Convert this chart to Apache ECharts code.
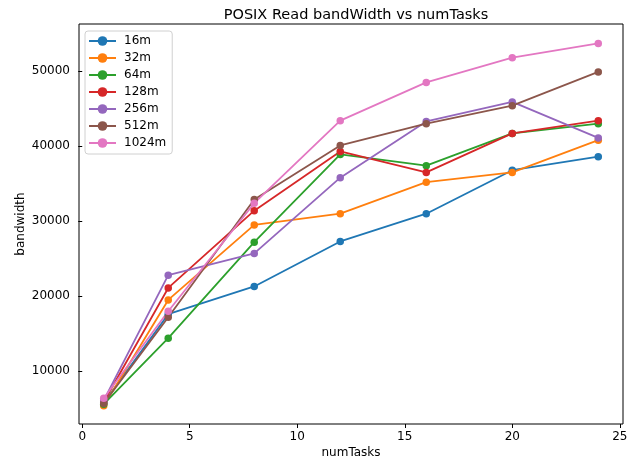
<!DOCTYPE html>
<html>
<head>
<meta charset="utf-8">
<script src="https://cdn.jsdelivr.net/npm/echarts@6/dist/echarts.min.js"></script>
<style>html,body{margin:0;padding:0;background:#fff;}#c{width:638px;height:462px;}</style>
</head>
<body>
<div id="c"></div>
<script>
const numTasks = [1, 4, 8, 12, 16, 20, 24];
const s16m   = [5800, 17600, 21300, 27300, 31000, 36800, 38600];
const s32m   = [5400, 19500, 29500, 31000, 35200, 36500, 40800];
const s64m   = [5600, 14400, 27200, 38900, 37400, 41700, 43000];
const s128m  = [5900, 21100, 31400, 39300, 36500, 41700, 43400];
const s256m  = [6100, 22800, 25700, 35800, 43300, 45900, 41100];
const s512m  = [5700, 17200, 32900, 40100, 43000, 45400, 49900];
const s1024m = [6400, 18000, 32400, 43400, 48500, 51800, 53700];
const seriesNames = ['16m', '32m', '64m', '128m', '256m', '512m', '1024m'];
const xTicks = [0, 5, 10, 15, 20, 25];
const yTicks = [10000, 20000, 30000, 40000, 50000];

const allSeries = [s16m, s32m, s64m, s128m, s256m, s512m, s1024m];
const colors = ['#1f77b4', '#ff7f0e', '#2ca02c', '#d62728', '#9467bd', '#8c564b', '#e377c2'];
const font = 'DejaVu Sans';

const chart = echarts.init(document.getElementById('c'), null, {renderer: 'canvas'});
chart.setOption({
  animation: false,
  color: colors,
  textStyle: {fontFamily: font},
  title: {
    text: 'POSIX Read bandWidth vs numTasks',
    left: 351, top: 3, textAlign: 'center',
    textStyle: {fontFamily: font, fontSize: 14.5, fontWeight: 'normal', color: '#000'}
  },
  grid: {
    left: 79, right: 15, top: 24, bottom: 38,
    show: true, borderColor: '#000', borderWidth: 1,
    containLabel: false, outerBoundsMode: 'none'
  },
  legend: {
    orient: 'vertical', left: 85, top: 31,
    data: seriesNames,
    itemWidth: 27, itemHeight: 12, itemGap: 5,
    padding: [4, 6, 5, 3],
    borderColor: '#d0d0d0', borderWidth: 1, borderRadius: 3,
    backgroundColor: 'rgba(255,255,255,0.8)',
    textStyle: {fontFamily: font, fontSize: 12, color: '#000', padding: [0, 0, 0, 3]}
  },
  xAxis: {
    type: 'value', min: -0.15, max: 25.15,
    name: 'numTasks', nameLocation: 'middle', nameGap: 23, nameMoveOverlap: false,
    nameTextStyle: {fontFamily: font, fontSize: 12, color: '#000'},
    axisLine: {show: false},
    axisTick: {show: true, length: 4, inside: false, customValues: xTicks, lineStyle: {color: '#000'}},
    axisLabel: {customValues: xTicks, margin: 7, fontFamily: font, fontSize: 12, color: '#000',
      formatter: v => String(v)},
    splitLine: {show: false}
  },
  yAxis: {
    type: 'value', min: 2960, max: 56290,
    name: 'bandwidth', nameLocation: 'middle', nameGap: 52, nameRotate: 90, nameMoveOverlap: false,
    nameTextStyle: {fontFamily: font, fontSize: 12, color: '#000'},
    axisLine: {show: false},
    axisTick: {show: true, length: 4, inside: false, customValues: yTicks, lineStyle: {color: '#000'}},
    axisLabel: {customValues: yTicks, margin: 9, fontFamily: font, fontSize: 12, color: '#000',
      formatter: v => String(v)},
    splitLine: {show: false}
  },
  series: seriesNames.map((name, i) => ({
    name: name,
    type: 'line',
    data: numTasks.map((x, j) => [x, allSeries[i][j]]),
    symbol: 'circle',
    symbolSize: 7.5,
    showSymbol: true,
    lineStyle: {width: 1.8, color: colors[i]},
    itemStyle: {color: colors[i], borderWidth: 0}
  }))
});
</script>
</body>
</html>
